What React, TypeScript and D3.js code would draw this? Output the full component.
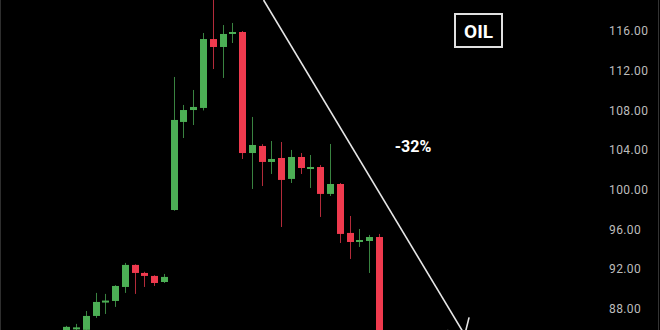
import React from "react";
import * as d3 from "d3";

// Daily candles: open, high, low, close (USD per barrel)
const opens = [85.8, 86.1, 85.9, 87.3, 88.75, 88.81, 90.22, 92.44, 91.63, 91.33, 90.72,
  97.97, 106.84, 108.04, 108.25, 115.19, 114.39, 115.7, 115.9, 103.71, 104.42, 102.81,
  103.21, 101.1, 103.31, 102.1, 102.3, 99.59, 100.59, 95.66, 94.75, 94.85, 95.25];
const highs = [86.3, 86.5, 87.8, 89.62, 89.52, 90.4, 92.64, 92.5, 91.75, 91.4, 91.53,
  111.37, 108.55, 110.06, 115.8, 119.8, 116.6, 116.81, 116.0, 107.34, 104.6, 104.92,
  104.82, 104.02, 103.71, 103.51, 102.5, 104.62, 100.69, 97.37, 96.06, 95.46, 95.56];
const lows = [85.5, 85.6, 85.6, 87.1, 87.5, 88.21, 89.62, 89.52, 90.22, 90.32, 90.62,
  97.9, 105.22, 106.53, 108.0, 112.17, 111.27, 114.79, 103.11, 100.09, 100.39, 101.6,
  96.26, 100.69, 101.6, 100.19, 97.27, 99.38, 94.65, 93.04, 94.25, 91.63, 83.0];
const closes = [86.2, 86.15, 87.3, 88.71, 88.85, 90.32, 92.44, 91.63, 91.33, 90.62, 91.23,
  107.04, 108.04, 108.35, 115.19, 114.39, 115.7, 115.9, 103.71, 104.52, 102.81, 103.11,
  101.0, 103.31, 102.2, 102.3, 99.59, 100.59, 95.56, 94.75, 94.95, 95.25, 84.0];

const priceTicks = [116, 112, 108, 104, 100, 96, 92, 88];

// Trend line drawn from the spike high down past the latest sell-off
const trendIndex = [20.2, 40.8];
const trendPrice = [119.12, 85.4];
const trendLabel = "-32%";
const symbol = "OIL";

const W = 660;
const H = 330;
const UP = "#4caf55";
const DOWN = "#ef3a4e";

export default function App() {
  const x = d3.scaleLinear().domain([0, opens.length - 1]).range([66.3, 378.8]);
  const y = d3.scaleLinear().domain([88, 116]).range([309, 31]);
  const bodyW = 7;

  const x0 = x(trendIndex[0]);
  const y0 = y(trendPrice[0]);
  const x1 = x(trendIndex[1]);
  const y1 = y(trendPrice[1]);
  const back = Math.atan2(y0 - y1, x0 - x1);
  const armLen = 18;
  const arm = (a: number) => [x1 + armLen * Math.cos(a), y1 + armLen * Math.sin(a)];
  const armA = arm(back + Math.PI / 4);
  const armB = arm(back - Math.PI / 4);

  return (
    <svg width={W} height={H} style={{ position: "absolute", left: 0, top: 0, background: "#000" }}>
      <rect x={0} y={0} width={W} height={H} fill="#000" />
      <line x1={0.5} x2={0.5} y1={0} y2={H} stroke="#2e2e2e" />
      <line x1={W - 1.5} x2={W - 1.5} y1={0} y2={H} stroke="#333" />

      {opens.map((o, i) => {
        const c = closes[i];
        const up = c >= o;
        const col = up ? UP : DOWN;
        const cx = Math.round(x(i)) + 0.5;
        const top = y(Math.max(o, c));
        const bot = y(Math.min(o, c));
        return (
          <g key={i}>
            <line x1={cx} x2={cx} y1={y(highs[i])} y2={y(lows[i])} stroke={col} strokeOpacity={0.75} strokeWidth={1} />
            <rect x={cx - bodyW / 2} y={top} width={bodyW} height={Math.max(2, bot - top)} fill={col} />
          </g>
        );
      })}

      <line x1={x0} y1={y0} x2={x1} y2={y1} stroke="#e6e6e6" strokeWidth={1.6} />
      <polyline
        points={`${armA[0]},${armA[1]} ${x1},${y1} ${armB[0]},${armB[1]}`}
        fill="none"
        stroke="#e6e6e6"
        strokeWidth={1.6}
      />

      <text x={413} y={152} textAnchor="middle" fill="#fff" fontFamily="Roboto, sans-serif" fontWeight={700} fontSize={16}>
        {trendLabel}
      </text>

      <rect x={455} y={14} width={47} height={33} fill="none" stroke="#e0e0e0" strokeWidth={2} />
      <text x={478.5} y={38} textAnchor="middle" fill="#fff" fontFamily="Roboto, sans-serif" fontWeight={700} fontSize={19}>
        {symbol}
      </text>

      {priceTicks.map((t) => (
        <text
          key={t}
          x={609}
          y={y(t)}
          dy="0.35em"
          fill="#bdbdbd"
          fontFamily="Roboto, sans-serif"
          fontSize={12}
          letterSpacing={0.4}
        >
          {t.toFixed(2)}
        </text>
      ))}
    </svg>
  );
}
